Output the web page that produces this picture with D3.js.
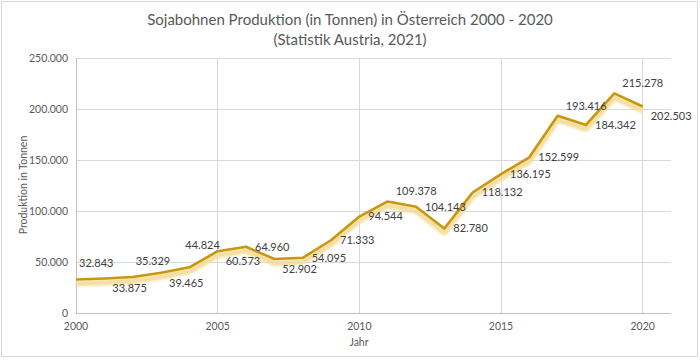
<!DOCTYPE html>
<html><head><meta charset="utf-8">
<script src="https://cdn.jsdelivr.net/npm/d3@7"></script>
<style>body{margin:0;background:#fff;}svg{display:block;font-family:Lato,"Open Sans",sans-serif;}</style>
</head><body><svg id="c" width="700" height="364"></svg>
<script>
const years = d3.range(2000, 2021);
const production = [32843, 33875, 35329, 39465, 44824, 60573, 64960, 52902, 54095, 71333, 94544, 109378, 104143, 82780, 118132, 136195, 152599, 193416, 184342, 215278, 202503];
const labelPlacement = ["u","rb","u","rb","a","rb","r","rb","r","r","r","ra","r","r","r","r","r","ra","r","ra","rb"];
const xTicks = [2000, 2005, 2010, 2015, 2020];
const yTicks = [0, 50000, 100000, 150000, 200000, 250000];
const titleLines = ["Sojabohnen Produktion (in Tonnen) in Österreich 2000 - 2020", "(Statistik Austria, 2021)"];
const xTitle = "Jahr", yTitle = "Produktion in Tonnen";

const svg = d3.select("#c");
const fmt = v => d3.format(",")(v).replace(/,/g, ".");
const x = d3.scaleLinear().domain([2000, 2021]).range([76, 671]);
const y = d3.scaleLinear().domain([0, 250000]).range([313, 58]);

svg.append("rect").attr("x",1.5).attr("y",1.5).attr("width",696).attr("height",355).attr("fill","#fff").attr("stroke","#d9d9d9");

const defs = svg.append("defs");
defs.append("filter").attr("id","blur").attr("x","-5%").attr("y","-20%").attr("width","110%").attr("height","140%")
  .append("feGaussianBlur").attr("stdDeviation",1.3);

// gridlines
svg.append("g").selectAll("line").data(yTicks).join("line")
  .attr("x1",76).attr("x2",671).attr("y1",d=>y(d)).attr("y2",d=>y(d))
  .attr("stroke",d=>d===0?"#bfbfbf":"#d9d9d9").attr("stroke-width",1).attr("shape-rendering","crispEdges");
svg.append("g").selectAll("line").data(xTicks).join("line")
  .attr("x1",d=>x(d)).attr("x2",d=>x(d)).attr("y1",y(0)).attr("y2",y(250000))
  .attr("stroke",d=>d===2000?"#bfbfbf":"#d9d9d9").attr("stroke-width",1).attr("shape-rendering","crispEdges");

// tick labels
svg.append("g").selectAll("text").data(yTicks).join("text")
  .attr("x",68).attr("y",d=>y(d)).attr("dy","0.35em").attr("text-anchor","end")
  .attr("font-size",10.5).attr("fill","#595959").text(d=>fmt(d));
svg.append("g").selectAll("text").data(xTicks).join("text")
  .attr("x",d=>x(d)).attr("y",y(0)+17).attr("text-anchor","middle")
  .attr("font-size",10.5).attr("fill","#595959").text(d=>d);

// titles
svg.append("g").selectAll("text").data(titleLines).join("text")
  .attr("x",350).attr("y",(d,i)=>25+i*20).attr("text-anchor","middle")
  .attr("font-size",15).attr("fill","#595959").text(d=>d);
svg.append("text").attr("x",359).attr("y",346).attr("text-anchor","middle")
  .attr("font-size",10.5).attr("fill","#595959").text(xTitle);
svg.append("text").attr("transform","translate(27,185) rotate(-90)").attr("text-anchor","middle")
  .attr("font-size",10.5).attr("fill","#595959").text(yTitle);

const data = years.map((yr,i)=>({yr, v:production[i], p:labelPlacement[i]}));
const line = d3.line().x(d=>x(d.yr)).y(d=>y(d.v));

// glow shadow
svg.append("path").datum(data).attr("d",line).attr("transform","translate(0,4)")
  .attr("fill","none").attr("stroke","#f3dc98").attr("stroke-width",6).attr("stroke-linejoin","round")
  .attr("filter","url(#blur)").attr("opacity",0.9);
svg.append("path").datum(data).attr("d",line)
  .attr("fill","none").attr("stroke","#c9970f").attr("stroke-width",2.6).attr("stroke-linejoin","round");

const off = {r:[9,0], ra:[8,-10], rb:[8,10], u:[3,-16], a:[-4,-22]};
svg.append("g").selectAll("text").data(data).join("text")
  .attr("x",d=>x(d.yr)+off[d.p][0]).attr("y",d=>y(d.v)+off[d.p][1]).attr("dy","0.35em")
  .attr("font-size",11).attr("fill","#404040").text(d=>fmt(d.v));
</script></body></html>
